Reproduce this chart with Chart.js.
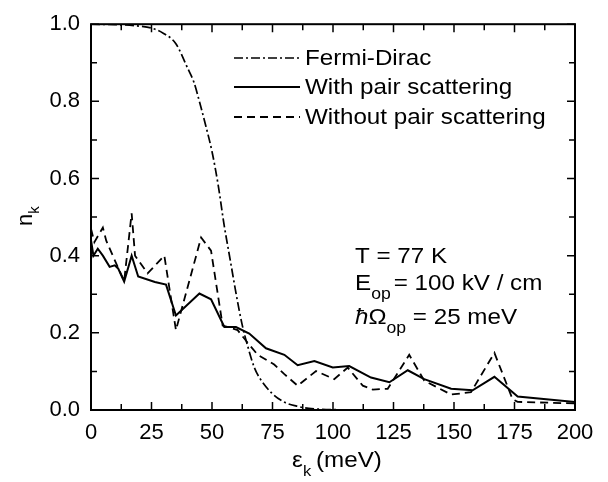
<!DOCTYPE html>
<html>
<head>
<meta charset="utf-8">
<script src="https://cdn.jsdelivr.net/npm/chart.js@4.4.1/dist/chart.umd.min.js"></script>
<style>
  html, body { margin: 0; padding: 0; background: #fff; }
  #wrap { width: 608px; height: 482px; }
</style>
</head>
<body>
<div id="wrap"><canvas id="chart" width="608" height="482"></canvas></div>
<script>
// energy (meV) / occupation
const fdX = [0, 10, 20, 25, 30, 35, 40, 42.5, 45, 47.5, 50, 52.5, 55, 57.5, 60, 62.5, 65, 67.5, 70, 75, 80, 85, 90, 95, 100, 110, 200];
const fdY = [1.0, 0.999, 0.995, 0.99, 0.976, 0.95, 0.885, 0.85, 0.795, 0.735, 0.67, 0.585, 0.48, 0.39, 0.30, 0.22, 0.16, 0.11, 0.08, 0.042, 0.02, 0.01, 0.004, 0.002, 0.001, 0, 0];

const withX = [0, 1, 2.8, 4.9, 7.7, 9.8, 11.2, 13.7, 16.8, 19.5, 26.4, 31, 35.1, 44.8, 49.6, 55.1, 59.9, 65.4, 72.3, 79.9, 85.4, 92.3, 99.9, 106.7, 115.7, 123.3, 130.9, 137.7, 148.8, 157.7, 166.7, 176.3, 200];
const withY = [0.44, 0.40, 0.418, 0.40, 0.371, 0.375, 0.367, 0.333, 0.40, 0.346, 0.332, 0.325, 0.245, 0.302, 0.287, 0.215, 0.215, 0.198, 0.16, 0.143, 0.116, 0.127, 0.11, 0.114, 0.084, 0.072, 0.103, 0.08, 0.055, 0.051, 0.086, 0.035, 0.021];

const withoutX = [0, 1.4, 4.9, 6.3, 10.4, 13.7, 16.8, 18.2, 23.4, 30.3, 35.1, 45.5, 49.6, 54.4, 60.6, 64, 68.9, 75.7, 79.9, 85.4, 93, 100.5, 106.1, 112.3, 116.4, 122.6, 131.5, 137.7, 148.8, 157, 166.7, 174.2, 176.3, 200];
const withoutY = [0.47, 0.435, 0.473, 0.439, 0.38, 0.334, 0.51, 0.40, 0.354, 0.40, 0.207, 0.447, 0.413, 0.219, 0.207, 0.18, 0.143, 0.118, 0.093, 0.063, 0.101, 0.08, 0.11, 0.063, 0.053, 0.055, 0.143, 0.076, 0.04, 0.046, 0.148, 0.028, 0.021, 0.017];

const xTicks = [0, 25, 50, 75, 100, 125, 150, 175, 200];
const yTicks = [0, 0.2, 0.4, 0.6, 0.8, 1.0];

const FONT = "'Liberation Sans', Arial, Helvetica, sans-serif";
const SX = 1.1; // the original lettering is a bit wide

function pts(xs, ys) {
    return xs.map((x, i) => ({ x: x, y: ys[i] }));
}

// draws text stretched horizontally, returns advance
function txt(ctx, s, x, y, font) {
    ctx.font = font;
    ctx.save();
    ctx.translate(x, y);
    ctx.scale(SX, 1);
    ctx.fillText(s, 0, 0);
    ctx.restore();
    return ctx.measureText(s).width * SX;
}

// frame, inward ticks, legend and labels
const decor = {
    id: "decor",
    afterDraw(chart) {
        const { ctx, chartArea: a, scales: { x, y } } = chart;
        ctx.save();
        ctx.strokeStyle = "#000";
        ctx.fillStyle = "#000";

        ctx.lineWidth = 2;
        ctx.strokeRect(a.left, a.top, a.right - a.left, a.bottom - a.top);

        ctx.lineWidth = 1.5;
        ctx.beginPath();
        for (let v = 0; v <= 200; v += 12.5) {
            const px = x.getPixelForValue(v);
            const len = xTicks.includes(v) ? 8 : 6;
            ctx.moveTo(px, a.bottom); ctx.lineTo(px, a.bottom - len);
            ctx.moveTo(px, a.top); ctx.lineTo(px, a.top + len);
        }
        for (let k = 0; k <= 10; k++) {
            const py = y.getPixelForValue(k / 10);
            const len = k % 2 === 0 ? 8 : 6;
            ctx.moveTo(a.left, py); ctx.lineTo(a.left + len, py);
            ctx.moveTo(a.right, py); ctx.lineTo(a.right - len, py);
        }
        ctx.stroke();

        // legend
        const rows = [58, 87, 117];
        chart.data.datasets.forEach((ds, i) => {
            ctx.setLineDash(ds.borderDash || []);
            ctx.lineWidth = ds.borderWidth;
            ctx.beginPath();
            ctx.moveTo(234, rows[i]);
            ctx.lineTo(300, rows[i]);
            ctx.stroke();
            ctx.setLineDash([]);
            ctx.textBaseline = "middle";
            ctx.textAlign = "left";
            txt(ctx, ds.label, 305, rows[i] + 1, "22px " + FONT);
        });

        // parameters
        ctx.textBaseline = "alphabetic";
        txt(ctx, "T = 77 K", 355, 263, "22px " + FONT);

        let cx = 355;
        cx += txt(ctx, "E", cx, 290, "22px " + FONT);
        cx += txt(ctx, "op", cx, 299, "16px " + FONT);
        txt(ctx, "= 100 kV / cm", cx + 3, 290, "22px " + FONT);

        cx = 355;
        cx += txt(ctx, "\u0127", cx, 324, "italic 22px " + FONT);
        cx += txt(ctx, "\u03A9", cx, 324, "22px " + FONT);
        cx += txt(ctx, "op", cx, 333, "16px " + FONT);
        txt(ctx, " = 25 meV", cx, 324, "22px " + FONT);

        // x title
        txt(ctx, "\u03B5", 292, 467, "22px " + FONT);
        txt(ctx, "k", 303, 476, "15px " + FONT);
        txt(ctx, "(meV)", 316, 467, "22px " + FONT);

        // y title
        ctx.translate(32, 226);
        ctx.rotate(-Math.PI / 2);
        ctx.font = "22px " + FONT;
        ctx.fillText("n", 0, 0);
        const nw = ctx.measureText("n").width;
        ctx.font = "15px " + FONT;
        ctx.fillText("k", nw, 7);

        ctx.restore();
    }
};

new Chart(document.getElementById("chart"), {
    type: "line",
    data: {
        datasets: [
            {
                label: "Fermi-Dirac",
                data: pts(fdX, fdY),
                borderColor: "#000",
                borderWidth: 1.7,
                borderDash: [9, 3, 2, 3],
                cubicInterpolationMode: "monotone",
                pointRadius: 0
            },
            {
                label: "With pair scattering",
                data: pts(withX, withY),
                borderColor: "#000",
                borderWidth: 2,
                tension: 0,
                pointRadius: 0
            },
            {
                label: "Without pair scattering",
                data: pts(withoutX, withoutY),
                borderColor: "#000",
                borderWidth: 1.8,
                borderDash: [8, 5],
                tension: 0,
                pointRadius: 0
            }
        ]
    },
    options: {
        responsive: false,
        animation: false,
        layout: { padding: { top: 15, right: 33, left: 0, bottom: 0 } },
        plugins: { legend: { display: false }, tooltip: { enabled: false } },
        scales: {
            x: {
                type: "linear",
                min: 0,
                max: 200,
                afterFit(s) { s.height = 72; },
                afterBuildTicks(s) { s.ticks = xTicks.map(v => ({ value: v })); },
                grid: { display: false, drawTicks: false },
                border: { display: false },
                ticks: { padding: 10, color: "#000", font: { family: FONT, size: 22 }, maxRotation: 0, autoSkip: false }
            },
            y: {
                min: 0,
                max: 1,
                afterFit(s) { s.width = 91; },
                afterBuildTicks(s) { s.ticks = yTicks.map(v => ({ value: v })); },
                grid: { display: false, drawTicks: false },
                border: { display: false },
                ticks: { padding: 11, color: "#000", font: { family: FONT, size: 22 }, callback: v => v.toFixed(1) }
            }
        }
    },
    plugins: [decor]
});
</script>
</body>
</html>
